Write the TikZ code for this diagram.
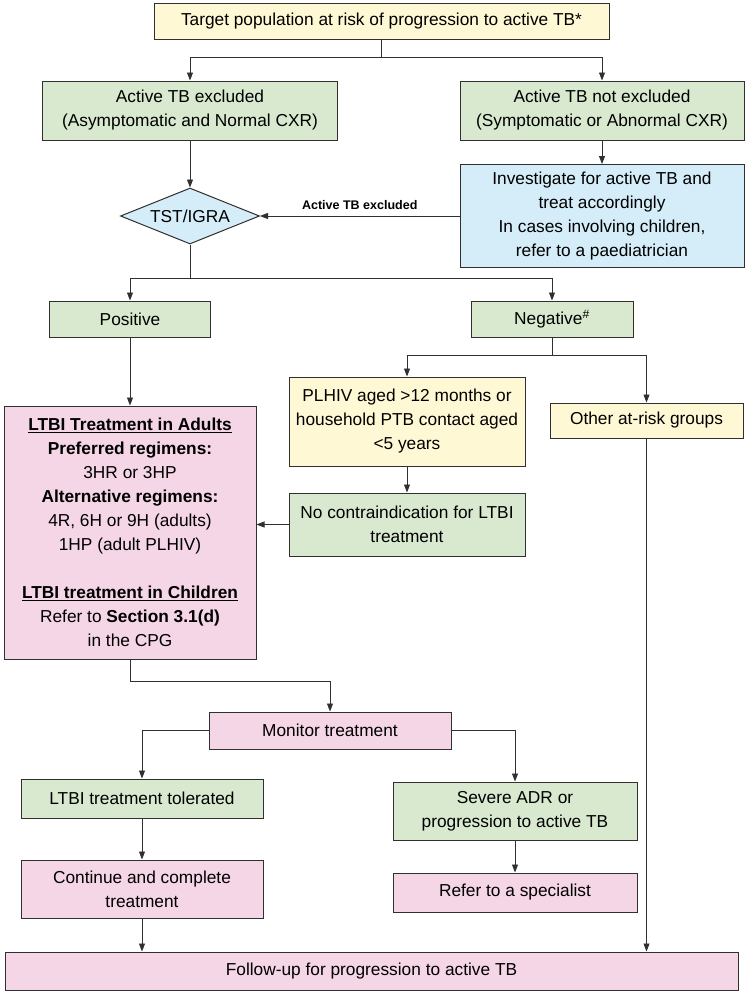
\documentclass[tikz,border=0pt]{standalone}
\usepackage{fontspec}
\setmainfont{Liberation Sans}
\usepackage{tikz}
\usetikzlibrary{arrows.meta,shapes.geometric}
\usepackage{xcolor}

\definecolor{tbyellow}{HTML}{FFF8D4}
\definecolor{tbgreen}{HTML}{D9E9D0}
\definecolor{tbblue}{HTML}{D5EDF8}
\definecolor{tbpink}{HTML}{F5D6E6}
\definecolor{tbline}{HTML}{303030}

\tikzset{
  box/.style={rectangle, draw=tbline, line width=1pt, align=center, inner sep=3pt},
  yellowbox/.style={box, fill=tbyellow},
  greenbox/.style={box, fill=tbgreen},
  bluebox/.style={box, fill=tbblue},
  pinkbox/.style={box, fill=tbpink},
  arr/.style={draw=tbline, line width=0.9pt, -{Triangle[length=8pt,width=6pt]}},
  link/.style={draw=tbline, line width=0.9pt},
}

\begin{document}
\begin{tikzpicture}[x=1pt, y=-1pt, font=\fontsize{17.3}{24}\selectfont]
      % Frame
      \useasboundingbox (0,0) rectangle (745,991);

      % Top
      \node[yellowbox, minimum width=455pt, minimum height=36pt] (target) at (381.5,21) {Target population at risk of progression to active TB*};
      \node[greenbox, minimum width=295pt, minimum height=59pt] (excl) at (190,110.5) {Active TB excluded\\(Asymptomatic and Normal CXR)};
      \node[greenbox, minimum width=284pt, minimum height=59pt] (notexcl) at (602,110.5) {Active TB not excluded\\(Symptomatic or Abnormal CXR)};

      % Testing
      \node[diamond, aspect=2.5, draw=tbline, line width=1pt, fill=tbblue, inner sep=0pt, minimum width=139pt, minimum height=56pt] (tst) at (190,216) {TST/IGRA};
      \node[bluebox, minimum width=284pt, minimum height=103pt] (invest) at (602,216) {Investigate for active TB and\\treat accordingly\\In cases involving children,\\refer to a paediatrician};

      % Results
      \node[greenbox, minimum width=161pt, minimum height=36pt] (positive) at (130,319) {Positive};
      \node[greenbox, minimum width=162pt, minimum height=36pt] (negative) at (552,319) {Negative\textsuperscript{\#}};
      \node[yellowbox, minimum width=236pt, minimum height=89pt] (plhiv) at (407,421.5) {PLHIV aged >12 months or\\household PTB contact aged\\<5 years};
      \node[yellowbox, minimum width=193pt, minimum height=35pt] (other) at (646.5,420.5) {Other at-risk groups};
      \node[greenbox, minimum width=236pt, minimum height=63pt] (nocontra) at (407,524.5) {No contraindication for LTBI\\treatment};

      % Treatment
      \node[pinkbox, minimum width=252pt, minimum height=253pt] (ltbi) at (130,532.5) {\underline{\textbf{LTBI Treatment in Adults}}\\\textbf{Preferred regimens:}\\3HR or 3HP\\\textbf{Alternative regimens:}\\4R, 6H or 9H (adults)\\1HP (adult PLHIV)\\[24pt]\underline{\textbf{LTBI treatment in Children}}\\Refer to \textbf{Section 3.1(d)}\\in the CPG};
      \node[pinkbox, minimum width=242pt, minimum height=37pt] (monitor) at (330,730.5) {Monitor treatment};
      \node[greenbox, minimum width=242pt, minimum height=39pt] (tolerated) at (142,798.5) {LTBI treatment tolerated};
      \node[greenbox, minimum width=244pt, minimum height=58pt] (severe) at (515,811) {Severe ADR or\\progression to active TB};
      \node[pinkbox, minimum width=242pt, minimum height=58pt] (complete) at (142,889) {Continue and complete\\treatment};
      \node[pinkbox, minimum width=244pt, minimum height=39pt] (refer) at (515,892.5) {Refer to a specialist};
      \node[pinkbox, minimum width=733pt, minimum height=38pt] (followup) at (371.5,971) {Follow-up for progression to active TB};

      % Arrows
      \draw[arr] (target.south) -- ++(0,18) -| (excl.north);
      \draw[arr] (target.south) ++(0,18) -| (notexcl.north);
      \draw[arr] (excl.south) -- (tst.north);
      \draw[arr] (notexcl.south) -- (invest.north);
      \draw[arr] (invest.west) -- node[above=3pt, font=\fontsize{12.5}{14}\selectfont\bfseries] {Active TB excluded} (tst.east);
      \draw[arr] (tst.south) -- ++(0,34) -| (positive.north);
      \draw[arr] (tst.south) ++(0,34) -| (negative.north);
      \draw[arr] (positive.south) -- (ltbi.north);
      \draw[arr] (negative.south) -- ++(0,18) -| (plhiv.north);
      \draw[arr] (negative.south) ++(0,18) -| (other.north);
      \draw[arr] (plhiv.south) -- (nocontra.north);
      \draw[arr] (nocontra.west) -- (nocontra.west -| ltbi.east);
      \draw[arr] (other.south) -- (other.south |- followup.north);
      \draw[arr] (ltbi.south) -- ++(0,22) -| (monitor.north);
      \draw[arr] (monitor.west) -| (tolerated.north);
      \draw[arr] (monitor.east) -| (severe.north);
      \draw[arr] (tolerated.south) -- (complete.north);
      \draw[arr] (severe.south) -- (refer.north);
      \draw[arr] (complete.south) -- (complete.south |- followup.north);

    \end{tikzpicture}
\end{document}
